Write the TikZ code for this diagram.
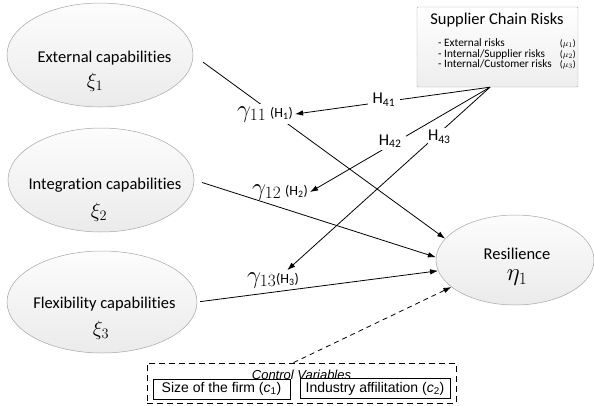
\documentclass[tikz,border=0pt]{standalone}
\usepackage{fontspec}
\setmainfont{Carlito}[Ligatures=NoCommon]
\newfontfamily\arialf{Liberation Sans}
\newcommand\hsz{\fontsize{14}{15}\selectfont}
\usetikzlibrary{shapes.geometric,arrows.meta,backgrounds,calc}
\begin{document}
\begin{tikzpicture}[x=1pt,y=-1pt,
  ell/.style={ellipse, draw=gray!70, line width=0.5pt, top color=gray!2, bottom color=gray!16, inner sep=0pt},
  lbl/.style={font=\fontsize{16.5}{18}\selectfont, inner sep=0pt},
  sym/.style={font=\fontsize{21}{22}\selectfont, inner sep=0pt},
  itm/.style={font=\fontsize{11.3}{12}\selectfont, inner sep=0pt, text height=7pt, text depth=1.5pt},
  mu/.style={font=\fontsize{9.5}{10}\selectfont, inner sep=0pt, text height=6pt, text depth=1.5pt},
  arr/.style={line width=0.8pt, -{Latex[length=8pt,width=5.5pt]}},
  hl/.style={fill=white, inner sep=0pt, minimum width=32pt, minimum height=17pt, font=\fontsize{16.5}{17}\selectfont},
  gl/.style={fill=white, inner sep=2pt, font=\fontsize{24}{26}\selectfont},
  cbox/.style={draw, line width=0.8pt, font=\arialf\fontsize{14}{15}\selectfont, inner sep=0pt, minimum height=20pt},
  dsh/.style={dash pattern=on 6pt off 4pt}
]
\useasboundingbox (0,0) rectangle (594,405);

% latent variables
\node[ell, minimum width=186pt, minimum height=104pt] (e1) at (100,55) {};
\node[lbl, anchor=base] (t1) at (104.5,62) {External capabilities};
\node[sym] (x1) at (95,82) {$\xi_1$};

\node[ell, minimum width=186pt, minimum height=104pt] (e2) at (101,180) {};
\node[lbl, anchor=base] (t2) at (105,189) {Integration capabilities};
\node[sym] (x2) at (99,212) {$\xi_2$};

\node[ell, minimum width=190pt, minimum height=102pt] (e3) at (102,302) {};
\node[lbl, anchor=base] (t3) at (104.5,308) {Flexibility capabilities};
\node[sym] (x3) at (101,330) {$\xi_3$};

\node[ell, minimum width=158pt, minimum height=90pt] (res) at (515,260) {};
\node[lbl, anchor=base] (tr) at (517,259) {Resilience};
\node[sym, font=\fontsize{23}{24}\selectfont] (er) at (517,278) {$\eta_1$};

% supplier chain risks box
\node[draw=gray!70, top color=white, bottom color=gray!14, minimum width=161pt, minimum height=80pt, rounded corners=1pt] (scr) at (497.5,47) {};
\node[lbl, anchor=base] (st) at (497,24) {Supplier Chain Risks};
\node[itm, anchor=base west] (r1) at (438,46) {- External risks};
\node[itm, anchor=base west] (r2) at (438,57) {- Internal/Supplier risks};
\node[itm, anchor=base west] (r3) at (438,67) {- Internal/Customer risks};
\node[mu, anchor=base east] (m1) at (576,46) {($\mu_1$)};
\node[mu, anchor=base east] (m2) at (576,57) {($\mu_2$)};
\node[mu, anchor=base east] (m3) at (576,67) {($\mu_3$)};
\coordinate (hub) at ($(scr.south)+(-7.5,0)$);

% path coefficient labels
\node[gl, anchor=base west] (g11) at (235,117) {$\gamma_{11}$\,{\hsz (H\textsubscript{1})}};
\node[gl, anchor=base west] (g12) at (250,195) {$\gamma_{12}$\,{\hsz (H\textsubscript{2})}};
\node[gl, anchor=base west] (g13) at (245,283) {$\gamma_{13}${\hsz (H\textsubscript{3})}};

% main effects
\begin{scope}[on background layer]
\draw[arr, shorten <=12pt] (e1.east) -- (res.163);
\end{scope}
\draw[arr, shorten <=8pt] (e2.east) -- (res.178);
\draw[arr, shorten <=3pt] (e3.east) -- (res.188);

% moderating effects
\draw[arr] (hub) -- node[hl, pos=0.544, yshift=2pt] (h41) {H\textsubscript{41}} (g11.east);
\draw[arr] (hub) -- node[hl, pos=0.544, yshift=3pt, xshift=-2pt] (h42) {H\textsubscript{42}} (g12.east);
\draw[arr] (hub) -- node[hl, pos=0.27, xshift=4pt, minimum width=22pt] (h43) {H\textsubscript{43}} (g13.35);

% control variables
\node[draw, dsh, line width=0.8pt, minimum width=309pt, minimum height=40pt] (cv) at (301.5,383) {};
\node[font=\arialf\itshape\fontsize{13}{14}\selectfont, inner sep=0pt, anchor=base] (cvt) at (301.5,379.5) {Control Variables};
\node[cbox, minimum width=137pt] (c1) at (221.5,389) {Size of the firm ({\itshape c}\textsubscript{1})};
\node[cbox, minimum width=150pt] (c2) at (375,388.5) {Industry affilitation ({\itshape c}\textsubscript{2})};
\draw[arr, dash pattern=on 5pt off 4pt] ($(cv.north)+(-8,0)$) -- (res.203);
\end{tikzpicture}
\end{document}
